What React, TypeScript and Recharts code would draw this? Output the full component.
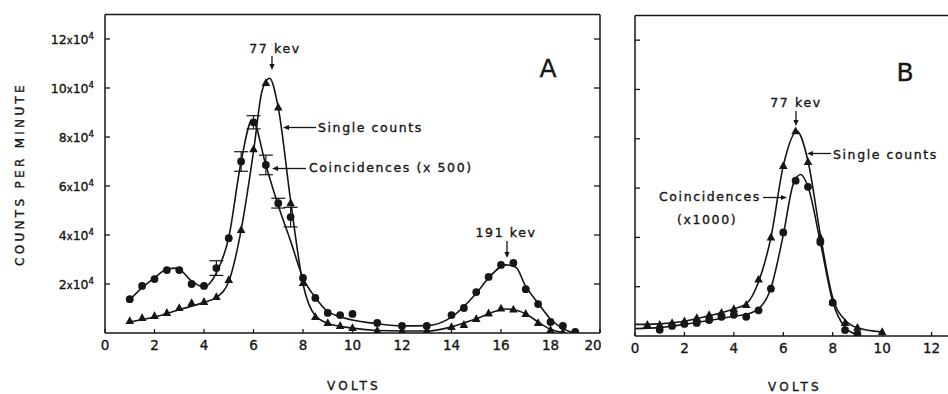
import React from "react";
import { ComposedChart, Line, Scatter, XAxis, YAxis, ErrorBar } from "recharts";

// ---- panel A, measured points (counts/min in units of 10^4) ----
const voltsA = [1, 1.5, 2, 2.5, 3, 3.5, 4, 4.5, 5, 5.5, 6, 6.5, 7, 7.5, 8, 8.5, 9, 9.5, 10, 11, 12, 13, 14, 14.5, 15, 15.5, 16, 16.5, 17, 17.5, 18, 18.5, 19];
const coincA = [1.38, 1.92, 2.2, 2.57, 2.57, 2.0, 1.92, 2.65, 3.87, 7.0, 8.6, 6.86, 5.3, 4.73, 2.25, 1.43, 0.82, 0.73, 0.78, 0.41, 0.29, 0.29, 0.73, 1.02, 1.67, 2.29, 2.78, 2.86, 1.79, 1.18, 0.45, 0.29, 0.05];
const voltsASingle = [1, 1.5, 2, 2.5, 3, 3.5, 4, 4.5, 5, 5.5, 6, 6.5, 7, 7.5, 8, 8.5, 9, 9.5, 10, 11, 12, 13, 14, 14.5, 15, 15.5, 16, 16.5, 17, 17.5, 18, 18.5];
const singleA = [0.49, 0.61, 0.69, 0.82, 1.02, 1.22, 1.27, 1.47, 2.16, 4.2, 7.5, 10.2, 9.2, 5.3, 2.04, 0.65, 0.41, 0.29, 0.2, 0.1, 0.08, 0.08, 0.24, 0.33, 0.57, 0.8, 1.0, 0.96, 0.78, 0.41, 0.12, 0.02];
const errVoltsA = [4.5, 5.5, 6, 6.5, 7, 7.5];
const errSizeA = [0.3, 0.4, 0.27, 0.4, 0.2, 0.4];

// ---- panel A, drawn curves ----
const curveAVoltsC = [1, 1.5, 2, 2.5, 2.9, 3.5, 4, 4.5, 5, 5.5, 5.95, 6.5, 7, 7.5, 8, 8.5, 9, 10, 11, 12, 13, 14, 15, 15.5, 16.2, 16.6, 17, 17.5, 18, 18.5, 19];
const curveACoinc = [1.35, 1.85, 2.25, 2.6, 2.65, 2.12, 1.88, 2.45, 3.9, 7.0, 8.7, 6.85, 5.2, 3.75, 2.25, 1.45, 0.88, 0.53, 0.38, 0.29, 0.3, 0.65, 1.62, 2.25, 2.78, 2.68, 1.9, 1.22, 0.57, 0.18, 0];
const curveAVoltsS = [1, 2, 3, 4, 4.5, 5, 5.5, 6, 6.35, 6.65, 7, 7.5, 8, 8.5, 9, 10, 11, 12, 13, 14, 15, 16.2, 17, 17.5, 18, 18.5];
const curveASingle = [0.45, 0.65, 0.95, 1.25, 1.45, 2.1, 4.2, 7.4, 9.9, 10.4, 9.2, 5.4, 2.0, 0.7, 0.4, 0.2, 0.1, 0.08, 0.08, 0.25, 0.58, 0.98, 0.78, 0.45, 0.15, 0.02];

// ---- panel B, measured points ----
const voltsBSingle = [0.5, 1, 1.5, 2, 2.5, 3, 3.5, 4, 4.5, 5, 5.5, 6, 6.5, 7, 7.5, 8, 8.5, 9, 10];
const singleB = [0.45, 0.45, 0.53, 0.6, 0.73, 0.85, 0.94, 1.09, 1.26, 2.29, 4.0, 6.9, 8.3, 7.06, 4.0, 1.39, 0.53, 0.33, 0.16];
const voltsBCoinc = [1, 1.5, 2, 2.5, 3, 3.5, 4, 4.5, 5, 5.5, 6, 6.5, 7, 7.5, 8, 8.5, 9];
const coincB = [0.25, 0.41, 0.49, 0.53, 0.65, 0.78, 0.86, 0.78, 1.04, 1.92, 4.2, 6.3, 6.05, 3.8, 1.35, 0.24, 0.08];

// ---- panel B, drawn curves ----
const curveBVoltsS = [0, 0.5, 1, 2, 3, 4, 4.5, 5, 5.5, 6, 6.55, 7, 7.5, 8, 8.5, 9, 10];
const curveBSingle = [0.47, 0.47, 0.49, 0.6, 0.82, 1.1, 1.3, 2.2, 4.0, 6.9, 8.3, 7.1, 4.1, 1.55, 0.65, 0.33, 0.16];
const curveBVoltsC = [0, 1, 1.5, 2, 3, 4, 4.5, 5, 5.5, 6, 6.4, 6.7, 7, 7.5, 8, 8.5, 9];
const curveBCoinc = [0.3, 0.34, 0.4, 0.47, 0.63, 0.8, 0.88, 1.1, 1.95, 4.1, 6.15, 6.55, 6.05, 3.8, 1.4, 0.35, 0.05];

const yTicks = [2, 4, 6, 8, 10, 12];

const INK = "#161616";
const FONT = "'DejaVu Sans', sans-serif";

const zip = (xs: number[], ys: number[]) => xs.map((x, i) => ({ x, y: ys[i] }));

const errPoints = errVoltsA.map((x, i) => ({ x, y: coincA[voltsA.indexOf(x)], e: errSizeA[i] }));

const Dot = (p: any) => <circle cx={p.cx} cy={p.cy} r={3.9} fill={INK} />;
const Tri = (p: any) => (
  <polygon
    points={`${p.cx},${p.cy - 4.8} ${p.cx + 4.3},${p.cy + 3} ${p.cx - 4.3},${p.cy + 3}`}
    fill={INK}
  />
);
const Nothing = () => <g />;

const ink = { fill: INK, stroke: INK, strokeWidth: 0.35 } as const;

const XTick = ({ x, y, payload }: any) => (
  <text x={x} y={y + 11} textAnchor="middle" fontFamily={FONT} fontSize={13.5} {...ink}>
    {payload.value}
  </text>
);

const YTick = ({ x, y, payload }: any) => (
  <text x={x} y={y + 4.5} textAnchor="end" fontFamily={FONT} fontSize={12.5} {...ink}>
    {payload.value}
    <tspan fontSize={10}>x</tspan>
    10
    <tspan dy={-5} fontSize={8.5}>4</tspan>
  </text>
);

// box + inward ticks, shared by both panels
function frame(xMax: number, xTicks: number[], topTicks: number[], labelled: boolean) {
  const line = { stroke: INK, strokeWidth: 1.5 };
  const tickLine = { stroke: INK, strokeWidth: 1.3 };
  return [
    <XAxis
      key="xb"
      xAxisId={0}
      dataKey="x"
      type="number"
      domain={[0, xMax]}
      ticks={xTicks}
      allowDataOverflow
      height={30}
      axisLine={line}
      tickLine={tickLine}
      tickSize={-4}
      tickMargin={10}
      tick={<XTick />}
    />,
    <XAxis
      key="xt"
      xAxisId="top"
      orientation="top"
      type="number"
      domain={[0, xMax]}
      ticks={topTicks}
      allowDataOverflow
      height={1}
      axisLine={line}
      tickLine={tickLine}
      tickSize={-6}
      tick={<Nothing />}
    />,
    <YAxis
      key="yl"
      yAxisId={0}
      dataKey="y"
      type="number"
      domain={[0, 13]}
      ticks={yTicks}
      allowDataOverflow
      width={105}
      axisLine={line}
      tickLine={tickLine}
      tickSize={-5}
      tickMargin={16}
      tick={labelled ? <YTick /> : <Nothing />}
    />,
    <YAxis
      key="yr"
      yAxisId="r"
      orientation="right"
      type="number"
      domain={[0, 13]}
      ticks={yTicks}
      allowDataOverflow
      width={1}
      axisLine={line}
      tickLine={tickLine}
      tickSize={-6}
      tick={<Nothing />}
    />,
  ];
}

function curve(key: string, data: { x: number; y: number }[]) {
  return (
    <Line
      key={key}
      data={data}
      dataKey="y"
      type="monotone"
      stroke={INK}
      strokeWidth={1.6}
      dot={false}
      activeDot={false}
      isAnimationActive={false}
    />
  );
}

function Arrow({ x1, y1, x2, y2 }: { x1: number; y1: number; x2: number; y2: number }) {
  const a = Math.atan2(y2 - y1, x2 - x1);
  const L = 6, W = 2.6;
  const bx = x2 - L * Math.cos(a), by = y2 - L * Math.sin(a);
  const px = -Math.sin(a) * W, py = Math.cos(a) * W;
  return (
    <g>
      <line x1={x1} y1={y1} x2={bx} y2={by} stroke={INK} strokeWidth={1.3} />
      <polygon points={`${x2},${y2} ${bx + px},${by + py} ${bx - px},${by - py}`} fill={INK} />
    </g>
  );
}

const note = { fontFamily: FONT, fontSize: 12.5, letterSpacing: 1.6, ...ink } as const;
const caps = { fontFamily: FONT, fontSize: 12, letterSpacing: 3.3, ...ink } as const;

export default function App() {
  return (
    <div style={{ position: "absolute", left: 0, top: 0, width: 948, height: 394, overflow: "hidden", background: "#fff" }}>
      {/* Panel A */}
      <div style={{ position: "absolute", left: 0, top: 0 }}>
        <ComposedChart width={601} height={363} margin={{ top: 13.5, right: 0, left: 0, bottom: 0 }}>
          {frame(20, [0, 2, 4, 6, 8, 10, 12, 14, 16, 18, 20], [2, 4, 6, 8, 10, 12, 14, 16, 18], true)}
          {curve("ac", zip(curveAVoltsC, curveACoinc))}
          {curve("as", zip(curveAVoltsS, curveASingle))}
          <Scatter data={errPoints} shape={<Nothing />} isAnimationActive={false}>
            <ErrorBar dataKey="e" direction="y" width={7} stroke={INK} strokeWidth={1.2} isAnimationActive={false} />
          </Scatter>
          <Scatter data={zip(voltsA, coincA)} shape={Dot} isAnimationActive={false} />
          <Scatter data={zip(voltsASingle, singleA)} shape={Tri} isAnimationActive={false} />
        </ComposedChart>
      </div>

      {/* Panel B (runs off the right edge, as in the original) */}
      <div style={{ position: "absolute", left: 530, top: 0 }}>
        <ComposedChart width={452} height={366} margin={{ top: 14.5, right: 0, left: 0, bottom: 0 }}>
          {frame(14, [0, 2, 4, 6, 8, 10, 12], [2, 4, 6, 8, 10, 12], false)}
          {curve("bs", zip(curveBVoltsS, curveBSingle))}
          {curve("bc", zip(curveBVoltsC, curveBCoinc))}
          <Scatter data={zip(voltsBCoinc, coincB)} shape={Dot} isAnimationActive={false} />
          <Scatter data={zip(voltsBSingle, singleB)} shape={Tri} isAnimationActive={false} />
        </ComposedChart>
      </div>

      {/* labels and annotations */}
      <svg width={948} height={394} style={{ position: "absolute", left: 0, top: 0, pointerEvents: "none" }}>
        <text x={20} y={174} transform="rotate(-90 20 174)" textAnchor="middle" dominantBaseline="central" {...caps}>
          COUNTS PER MINUTE
        </text>
        <text x={354} y={390} textAnchor="middle" {...caps}>VOLTS</text>
        <text x={795} y={391} textAnchor="middle" {...caps}>VOLTS</text>

        <text x={548} y={77} textAnchor="middle" fontFamily={FONT} fontSize={25} {...ink}>A</text>
        <text x={905} y={81} textAnchor="middle" fontFamily={FONT} fontSize={25} {...ink}>B</text>

        <text x={275} y={53} textAnchor="middle" {...note}>77 kev</text>
        <Arrow x1={272} y1={56} x2={272} y2={70} />
        <text x={318} y={132} {...note}>Single counts</text>
        <Arrow x1={316} y1={127.5} x2={283} y2={127.5} />
        <text x={309} y={171.5} {...note}>Coincidences (x 500)</text>
        <Arrow x1={306} y1={168.5} x2={272} y2={168.5} />
        <text x={506} y={237} textAnchor="middle" {...note}>191 kev</text>
        <Arrow x1={507} y1={241} x2={507} y2={258} />

        <text x={796} y={107} textAnchor="middle" {...note}>77 kev</text>
        <Arrow x1={796} y1={111} x2={796} y2={126} />
        <text x={833} y={159} {...note}>Single counts</text>
        <Arrow x1={831} y1={153.5} x2={807} y2={153.5} />
        <text x={659} y={201} {...note}>Coincidences</text>
        <Arrow x1={763} y1={197.5} x2={787} y2={197.5} />
        <text x={677} y={224} {...note}>(x1000)</text>
      </svg>
    </div>
  );
}
